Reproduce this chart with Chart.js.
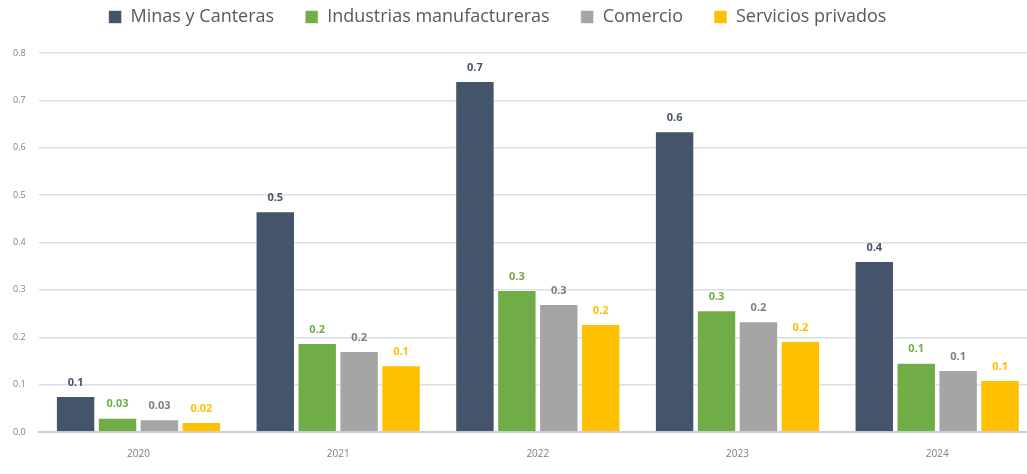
<!DOCTYPE html>
<html>
<head>
<meta charset="utf-8">
<script src="https://cdn.jsdelivr.net/npm/chart.js@4/dist/chart.umd.min.js"></script>
<style>
  html, body { margin: 0; padding: 0; background: #fff; overflow: hidden; }
  #wrap { width: 1040px; height: 474px; }
</style>
</head>
<body>
<div id="wrap"><canvas id="chart"></canvas></div>
<script>
const years = ["2020", "2021", "2022", "2023", "2024"];
const minas = [0.076, 0.466, 0.741, 0.635, 0.361];
const industrias = [0.030, 0.188, 0.300, 0.257, 0.146];
const comercio = [0.027, 0.171, 0.270, 0.234, 0.131];
const servicios = [0.021, 0.141, 0.228, 0.192, 0.110];
const yTicks = [0, 0.1, 0.2, 0.3, 0.4, 0.5, 0.6, 0.7, 0.8];

const labelColors = ['#44546A', '#70AD47', '#7F7F7F', '#FFC000'];

// value labels above each bar (no datalabels plugin available offline)
const barLabels = {
  id: 'barLabels',
  afterDatasetsDraw(chart) {
    const c = chart.ctx;
    c.save();
    c.font = 'bold 11px "Open Sans", sans-serif';
    c.textAlign = 'center';
    c.textBaseline = 'bottom';
    chart.data.datasets.forEach((ds, i) => {
      chart.getDatasetMeta(i).data.forEach((bar, j) => {
        const v = ds.data[j];
        c.fillStyle = labelColors[i];
        c.fillText(v < 0.05 ? v.toFixed(2) : v.toFixed(1), bar.x, bar.y - 8);
      });
    });
    c.restore();
  }
};

// extra room under the legend, and nudge it left (the plot runs past the right edge)
const legendGap = {
  id: 'legendGap',
  beforeInit(chart) {
    const lg = chart.legend;
    const fit = lg.fit;
    const draw = lg.draw;
    lg.fit = function () {
      fit.call(lg);
      this.height += 16;
    };
    lg.draw = function () {
      chart.ctx.save();
      chart.ctx.translate(-21, -1);
      draw.call(lg);
      chart.ctx.restore();
    };
  }
};

new Chart(document.getElementById('chart'), {
  type: 'bar',
  data: {
    labels: years,
    datasets: [
      { label: 'Minas y Canteras', data: minas, backgroundColor: '#44546A' },
      { label: 'Industrias manufactureras', data: industrias, backgroundColor: '#70AD47' },
      { label: 'Comercio', data: comercio, backgroundColor: '#A5A5A5' },
      { label: 'Servicios privados', data: servicios, backgroundColor: '#FFC000' }
    ]
  },
  options: {
    responsive: true,
    maintainAspectRatio: false,
    animation: false,
    datasets: {
      bar: { categoryPercentage: 0.84, barPercentage: 0.94, borderWidth: 1, borderColor: 'rgba(255,255,255,0.6)' }
    },
    layout: { padding: { left: 0, right: 3, top: -22, bottom: 6 } },
    plugins: {
      legend: {
        position: 'top',
        labels: {
          boxWidth: 13,
          boxHeight: 13,
          padding: 31,
          color: '#595959',
          font: { size: 18, family: '"Open Sans", sans-serif' }
        }
      },
      tooltip: { enabled: false }
    },
    scales: {
      x: {
        grid: { display: false },
        border: { color: '#C9D0DA', width: 2 },
        ticks: { color: '#7F7F7F', font: { size: 10, family: '"Open Sans", sans-serif' }, padding: 8 }
      },
      y: {
        min: 0,
        max: 0.8,
        afterBuildTicks(axis) { axis.ticks = yTicks.map(v => ({ value: v })); },
        grid: { color: '#D9DEE6', lineWidth: 1.5, drawTicks: false },
        border: { display: false },
        ticks: {
          color: '#7F7F7F',
          padding: 13,
          font: { size: 9, family: '"Open Sans", sans-serif' },
          callback: v => v.toFixed(1)
        }
      }
    }
  },
  plugins: [barLabels, legendGap]
});
</script>
</body>
</html>
